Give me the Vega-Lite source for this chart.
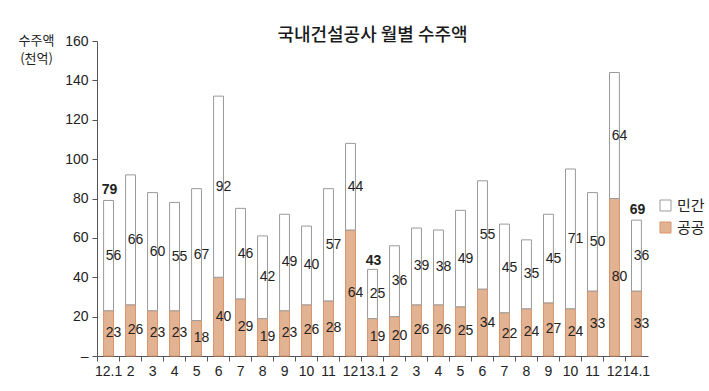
{
  "$schema": "https://vega.github.io/schema/vega-lite/v6.json",
  "width": 551,
  "height": 315,
  "autosize": "none",
  "padding": {"left": 97, "top": 41, "right": 61, "bottom": 35},
  "background": "white",
  "title": {
    "text": "국내건설공사 월별 수주액",
    "font": "Noto Sans CJK KR",
    "fontSize": 18,
    "fontWeight": 500,
    "color": "#1a1a1a",
    "anchor": "middle",
    "frame": "group",
    "offset": -11
  },
  "config": {
    "view": {"stroke": null},
    "font": "Liberation Sans",
    "axisY": {"labelOverlap": false}
  },
  "datasets": {
    "seg": [
      {"m": "12.1", "type": "공공", "v": 23}, {"m": "12.1", "type": "민간", "v": 56},
      {"m": "12.2", "type": "공공", "v": 26}, {"m": "12.2", "type": "민간", "v": 66},
      {"m": "12.3", "type": "공공", "v": 23}, {"m": "12.3", "type": "민간", "v": 60},
      {"m": "12.4", "type": "공공", "v": 23}, {"m": "12.4", "type": "민간", "v": 55},
      {"m": "12.5", "type": "공공", "v": 18}, {"m": "12.5", "type": "민간", "v": 67},
      {"m": "12.6", "type": "공공", "v": 40}, {"m": "12.6", "type": "민간", "v": 92},
      {"m": "12.7", "type": "공공", "v": 29}, {"m": "12.7", "type": "민간", "v": 46},
      {"m": "12.8", "type": "공공", "v": 19}, {"m": "12.8", "type": "민간", "v": 42},
      {"m": "12.9", "type": "공공", "v": 23}, {"m": "12.9", "type": "민간", "v": 49},
      {"m": "12.10", "type": "공공", "v": 26}, {"m": "12.10", "type": "민간", "v": 40},
      {"m": "12.11", "type": "공공", "v": 28}, {"m": "12.11", "type": "민간", "v": 57},
      {"m": "12.12", "type": "공공", "v": 64}, {"m": "12.12", "type": "민간", "v": 44},
      {"m": "13.1", "type": "공공", "v": 19}, {"m": "13.1", "type": "민간", "v": 25},
      {"m": "13.2", "type": "공공", "v": 20}, {"m": "13.2", "type": "민간", "v": 36},
      {"m": "13.3", "type": "공공", "v": 26}, {"m": "13.3", "type": "민간", "v": 39},
      {"m": "13.4", "type": "공공", "v": 26}, {"m": "13.4", "type": "민간", "v": 38},
      {"m": "13.5", "type": "공공", "v": 25}, {"m": "13.5", "type": "민간", "v": 49},
      {"m": "13.6", "type": "공공", "v": 34}, {"m": "13.6", "type": "민간", "v": 55},
      {"m": "13.7", "type": "공공", "v": 22}, {"m": "13.7", "type": "민간", "v": 45},
      {"m": "13.8", "type": "공공", "v": 24}, {"m": "13.8", "type": "민간", "v": 35},
      {"m": "13.9", "type": "공공", "v": 27}, {"m": "13.9", "type": "민간", "v": 45},
      {"m": "13.10", "type": "공공", "v": 24}, {"m": "13.10", "type": "민간", "v": 71},
      {"m": "13.11", "type": "공공", "v": 33}, {"m": "13.11", "type": "민간", "v": 50},
      {"m": "13.12", "type": "공공", "v": 80}, {"m": "13.12", "type": "민간", "v": 64},
      {"m": "14.1", "type": "공공", "v": 33}, {"m": "14.1", "type": "민간", "v": 36}
    ],
    "tot": [
      {"m": "12.1", "v": 79},
      {"m": "13.1", "v": 43},
      {"m": "14.1", "v": 69}
    ]
  },
  "encoding": {
    "x": {
      "field": "m", "type": "nominal", "sort": null,
      "scale": {"paddingInner": 0.55, "paddingOuter": 0.3},
      "axis": {
        "title": null,
        "labelAngle": 0,
        "labelExpr": "split(datum.value,'.')[1] == '1' ? datum.value : split(datum.value,'.')[1]",
        "labelFontSize": 14,
        "labelColor": "#222",
        "labelPadding": 3,
        "labelOverlap": false,
        "bandPosition": -0.611,
        "tickSize": 5,
        "tickColor": "#555",
        "domainColor": "#555",
        "labelFont": "Liberation Sans"
      }
    },
    "y": {
      "field": "v", "type": "quantitative",
      "scale": {"domain": [0, 160], "nice": false},
      "axis": {
        "values": [0, 20, 40, 60, 80, 100, 120, 140, 160],
        "labelExpr": "datum.value == 0 ? '–' : format(datum.value, 'd')",
        "labelOverlap": false,
        "grid": false,
        "labelFontSize": 14,
        "labelColor": "#222",
        "labelPadding": 4,
        "tickSize": 5,
        "tickColor": "#555",
        "domainColor": "#555",
        "labelFont": "Liberation Sans",
        "title": ["수주액", "(천억)"],
        "titleFont": "Noto Sans CJK KR",
        "titleFontSize": 13,
        "titleFontWeight": "normal",
        "titleColor": "#222",
        "titleAngle": 0,
        "titleAlign": "center",
        "titleBaseline": "top",
        "titleLineHeight": 18,
        "titleX": -61,
        "titleY": -7
      }
    }
  },
  "layer": [
    {
      "data": {"name": "seg"},
      "mark": {"type": "bar", "strokeWidth": 1},
      "encoding": {
        "y": {"field": "v", "type": "quantitative", "stack": "zero"},
        "fill": {
          "field": "type", "type": "nominal",
          "scale": {"domain": ["민간", "공공"], "range": ["#ffffff", "#e2b393"]},
          "legend": {
            "title": null, "orient": "none", "legendX": 561, "legendY": 157,
            "symbolType": "square", "symbolSize": 121, "symbolStrokeWidth": 1,
            "labelFont": "Noto Sans CJK KR", "labelFontSize": 15, "labelColor": "#222",
            "rowPadding": 6, "labelOffset": 4
          }
        },
        "stroke": {
          "field": "type", "type": "nominal",
          "scale": {"domain": ["민간", "공공"], "range": ["#9a9a9a", "#d8936a"]},
          "legend": {
            "title": null, "orient": "none", "legendX": 561, "legendY": 157,
            "symbolType": "square", "symbolSize": 121, "symbolStrokeWidth": 1,
            "labelFont": "Noto Sans CJK KR", "labelFontSize": 15, "labelColor": "#222",
            "rowPadding": 6, "labelOffset": 4
          }
        },
        "order": {"field": "type", "sort": "ascending"}
      }
    },
    {
      "data": {"name": "seg"},
      "mark": {"type": "text", "dx": 5, "fontSize": 14, "color": "#222", "font": "Liberation Sans", "baseline": "middle"},
      "encoding": {
        "y": {"field": "v", "type": "quantitative", "stack": "zero", "bandPosition": 0.5},
        "text": {"field": "v", "type": "quantitative"},
        "order": {"field": "type", "sort": "ascending"}
      }
    },
    {
      "data": {"name": "tot"},
      "mark": {"type": "text", "dy": -10, "dx": 1, "fontSize": 14, "fontWeight": "bold", "color": "#222", "font": "Liberation Sans", "baseline": "middle"},
      "encoding": {
        "text": {"field": "v", "type": "quantitative"}
      }
    }
  ]
}
